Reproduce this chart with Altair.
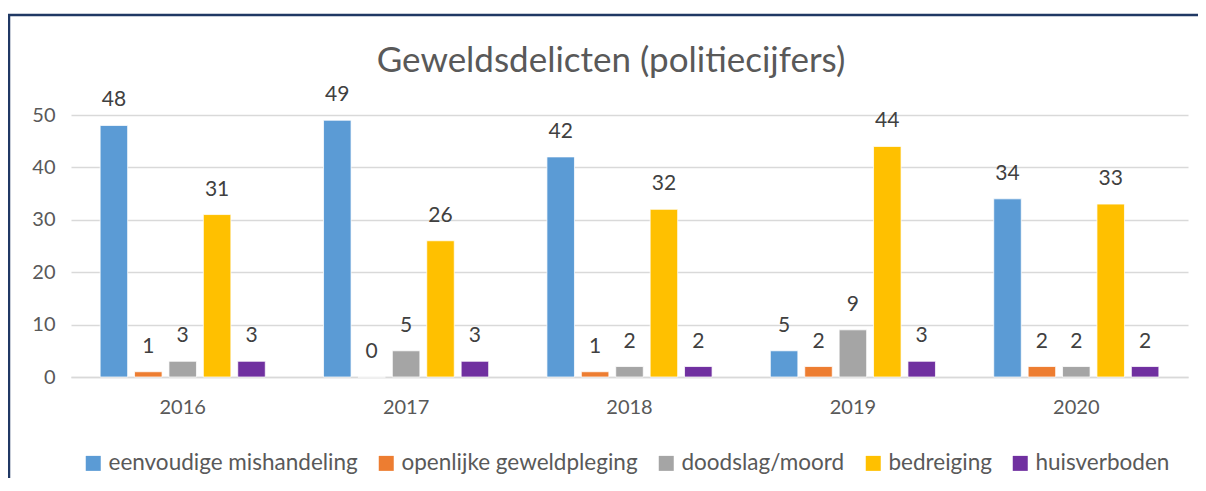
import altair as alt
import pandas as pd

years = ["2016", "2017", "2018", "2019", "2020"]
series = ["eenvoudige mishandeling", "openlijke geweldpleging", "doodslag/moord", "bedreiging", "huisverboden"]
colors = ["#5B9BD5", "#ED7D31", "#A5A5A5", "#FFC000", "#7030A0"]
eenvoudige = [48, 49, 42, 5, 34]
openlijke = [1, 0, 1, 2, 2]
doodslag = [3, 5, 2, 9, 2]
bedreiging = [31, 26, 32, 44, 33]
huisverboden = [3, 3, 2, 3, 2]
title_text = "Geweldsdelicten (politiecijfers)"

values = [eenvoudige, openlijke, doodslag, bedreiging, huisverboden]
rows = []
for s, vals in zip(series, values):
    for y, v in zip(years, vals):
        rows.append({"jaar": y, "reeks": s, "aantal": v})
df = pd.DataFrame(rows)

FONT = "Lato"
TXT = "#595959"
NAVY = "#203864"

x = alt.X("jaar:N", sort=years, title=None,
          scale=alt.Scale(paddingInner=0.23, paddingOuter=0.115),
          axis=alt.Axis(labelAngle=0, labelFontSize=20, labelColor=TXT, labelFont=FONT,
                        ticks=False, grid=False, domainColor="#D9D9D9", domainWidth=1.5,
                        labelPadding=20))
xo = alt.XOffset("reeks:N", sort=series,
                 scale=alt.Scale(paddingInner=0.2, paddingOuter=0.1))
y = alt.Y("aantal:Q", title=None,
          scale=alt.Scale(domain=[0, 50], nice=False),
          axis=alt.Axis(values=[0, 10, 20, 30, 40, 50], labelFontSize=20, labelColor=TXT,
                        labelFont=FONT, ticks=False, domain=False, gridColor="#D9D9D9",
                        gridWidth=1.5, labelPadding=16))
color = alt.Color("reeks:N", sort=series, scale=alt.Scale(domain=series, range=colors),
                  legend=alt.Legend(title=None, orient="none", legendX=11, legendY=337,
                                    direction="horizontal", symbolType="square",
                                    symbolSize=225, symbolStrokeWidth=0, labelFontSize=22.5,
                                    labelFont=FONT, labelColor=TXT, labelOffset=4,
                                    labelLimit=500, columnPadding=17, symbolOpacity=1))

base = alt.Chart(df)
bars = base.mark_bar(stroke="white", strokeWidth=0.75).encode(x=x, xOffset=xo, y=y, color=color)
labels = base.mark_text(baseline="bottom", dy=-15, fontSize=21, font=FONT, color="#404040").encode(
    x=x, xOffset=xo, y=y, text="aantal:Q")

one = pd.DataFrame({"d": [0]})
top_border = alt.Chart(one).mark_rule(color=NAVY, strokeWidth=2.5, clip=False).encode(
    x=alt.value(-63), x2=alt.value(1127), y=alt.value(-100))
left_border = alt.Chart(one).mark_rule(color=NAVY, strokeWidth=2.5, clip=False).encode(
    x=alt.value(-62), y=alt.value(-101), y2=alt.value(363))
title = alt.Chart(one).mark_text(
    text=title_text, fontSize=35, font=FONT, color=TXT, align="center", baseline="alphabetic").encode(
    x=alt.value(540), y=alt.value(-43))

chart = alt.layer(bars, labels, top_border, left_border, title).properties(
    width=1117, height=262,
    background="white",
    padding={"left": 63, "top": 107, "right": 10, "bottom": 101},
    autosize=alt.AutoSizeParams(type="none"),
).configure_view(strokeWidth=0)

chart.save("out.html", embed_options={"renderer": "svg", "actions": False})
